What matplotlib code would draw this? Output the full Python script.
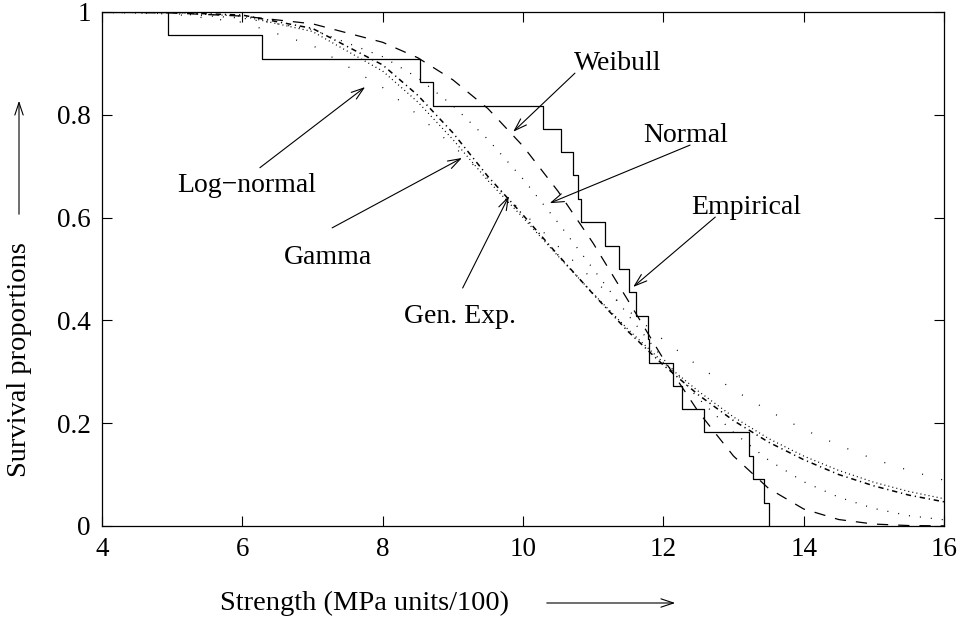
import matplotlib
matplotlib.use("Agg")
import matplotlib.pyplot as plt
from matplotlib.patches import FancyArrowPatch

plt.rcParams['font.family'] = ['Liberation Serif', 'DejaVu Serif']

# empirical survival (step function)
emp_x = [4.0, 4.94, 6.28, 8.53, 8.72, 10.28, 10.54, 10.71, 10.78, 10.83, 11.17, 11.37,
         11.51, 11.61, 11.78, 11.80, 12.14, 12.27, 12.58, 13.22, 13.28, 13.43, 13.50]
emp_y = [1.0, 0.955, 0.909, 0.864, 0.818, 0.773, 0.727, 0.682, 0.636, 0.591, 0.545, 0.5,
         0.455, 0.409, 0.364, 0.318, 0.273, 0.227, 0.182, 0.136, 0.091, 0.045, 0.0]

# fitted curves, read at these strengths
xs = [4, 5, 6, 7, 8, 8.5, 9, 9.5, 10, 10.5, 11, 11.5, 12, 12.5, 13, 13.5, 14, 14.5, 15, 15.5, 16]
weibull = [1.0, 0.998, 0.992, 0.977, 0.941, 0.911, 0.868, 0.812, 0.739, 0.651, 0.55, 0.438,
           0.325, 0.222, 0.136, 0.073, 0.033, 0.0125, 0.0037, 0.0008, 0.0002]
normal = [0.999, 0.997, 0.988, 0.966, 0.913, 0.872, 0.818, 0.752, 0.675, 0.590, 0.5, 0.41,
          0.325, 0.248, 0.182, 0.128, 0.086, 0.056, 0.034, 0.020, 0.012]
lognormal = [1.0, 0.996, 0.980, 0.935, 0.853, 0.800, 0.740, 0.676, 0.610, 0.544, 0.479, 0.419,
             0.362, 0.311, 0.265, 0.224, 0.188, 0.157, 0.130, 0.108, 0.089]
gamma = [1.0, 0.999, 0.992, 0.962, 0.885, 0.825, 0.752, 0.672, 0.600, 0.525, 0.452, 0.382,
         0.318, 0.262, 0.212, 0.170, 0.136, 0.108, 0.085, 0.067, 0.053]
genexp = [1.0, 0.999, 0.994, 0.968, 0.897, 0.838, 0.765, 0.680, 0.605, 0.527, 0.451, 0.378,
          0.313, 0.255, 0.205, 0.163, 0.129, 0.100, 0.078, 0.060, 0.047]

# labels: (text, text pos, arrow tail, arrow tip)
labels = [
    ('Log\u2212normal', (6.06, 0.663), (6.25, 0.697), (7.75, 0.854)),
    ('Gamma', (7.22, 0.523), (7.28, 0.58), (9.13, 0.716)),
    ('Gen. Exp.', (9.10, 0.407), (9.14, 0.463), (9.80, 0.642)),
    ('Weibull', (11.35, 0.90), (10.74, 0.881), (9.86, 0.767)),
    ('Normal', (12.32, 0.759), (12.38, 0.741), (10.38, 0.628)),
    ('Empirical', (13.18, 0.619), (12.74, 0.601), (11.57, 0.465)),
]

fig = plt.figure(figsize=(9.64, 6.24), dpi=100)
ax = fig.add_axes([0.1058, 0.1571, 0.8735, 0.8237])

lw = 0.9
head = '->,head_length=0.9,head_width=0.3'
ax.step(emp_x, emp_y, where='post', color='black', lw=lw)
ax.plot(xs, weibull, color='black', lw=lw, dashes=(9, 8))
ax.plot(xs, normal, color='black', lw=lw, dashes=(0.8, 8))
ax.plot(xs, lognormal, color='black', lw=lw, dashes=(0.8, 15))
ax.plot(xs, gamma, color='black', lw=lw, dashes=(0.8, 2.5))
ax.plot(xs, genexp, color='black', lw=1.1, dashes=(3.5, 2.5, 0.8, 2.5))

for txt, pos, tail, tip in labels:
    ax.text(pos[0], pos[1], txt, fontsize=20, ha='center', va='center')
    ax.annotate('', xy=tip, xytext=tail,
                arrowprops=dict(arrowstyle=head, lw=0.8, color='black',
                                shrinkA=0, shrinkB=0))

ax.set_xlim(4, 16)
ax.set_ylim(0, 1)
ax.set_xticks([4, 6, 8, 10, 12, 14, 16])
ax.set_yticks([0, 0.2, 0.4, 0.6, 0.8, 1])
ax.set_yticklabels(['0', '0.2', '0.4', '0.6', '0.8', '1'])
ax.tick_params(direction='in', length=7, width=0.8, top=True, right=True,
               labelsize=19.5, pad=8)
for s in ax.spines.values():
    s.set_linewidth(0.9)

# axis titles with arrows, gnuplot style
fig.text(365 / 964, 1 - 603 / 624, 'Strength (MPa units/100)', fontsize=20.5,
         ha='center', va='center')
fig.text(20 / 964, 1 - 360 / 624, 'Survival proportions', fontsize=20.5,
         ha='center', va='center', rotation=90)
fig.add_artist(FancyArrowPatch((544 / 964, 1 - 603 / 624), (678 / 964, 1 - 603 / 624),
                               transform=fig.transFigure, arrowstyle=head,
                               mutation_scale=10, lw=0.8, color='black'))
fig.add_artist(FancyArrowPatch((19 / 964, 1 - 217 / 624), (19 / 964, 1 - 98 / 624),
                               transform=fig.transFigure, arrowstyle=head,
                               mutation_scale=10, lw=0.8, color='black'))

fig.savefig('out.png', dpi=100)
